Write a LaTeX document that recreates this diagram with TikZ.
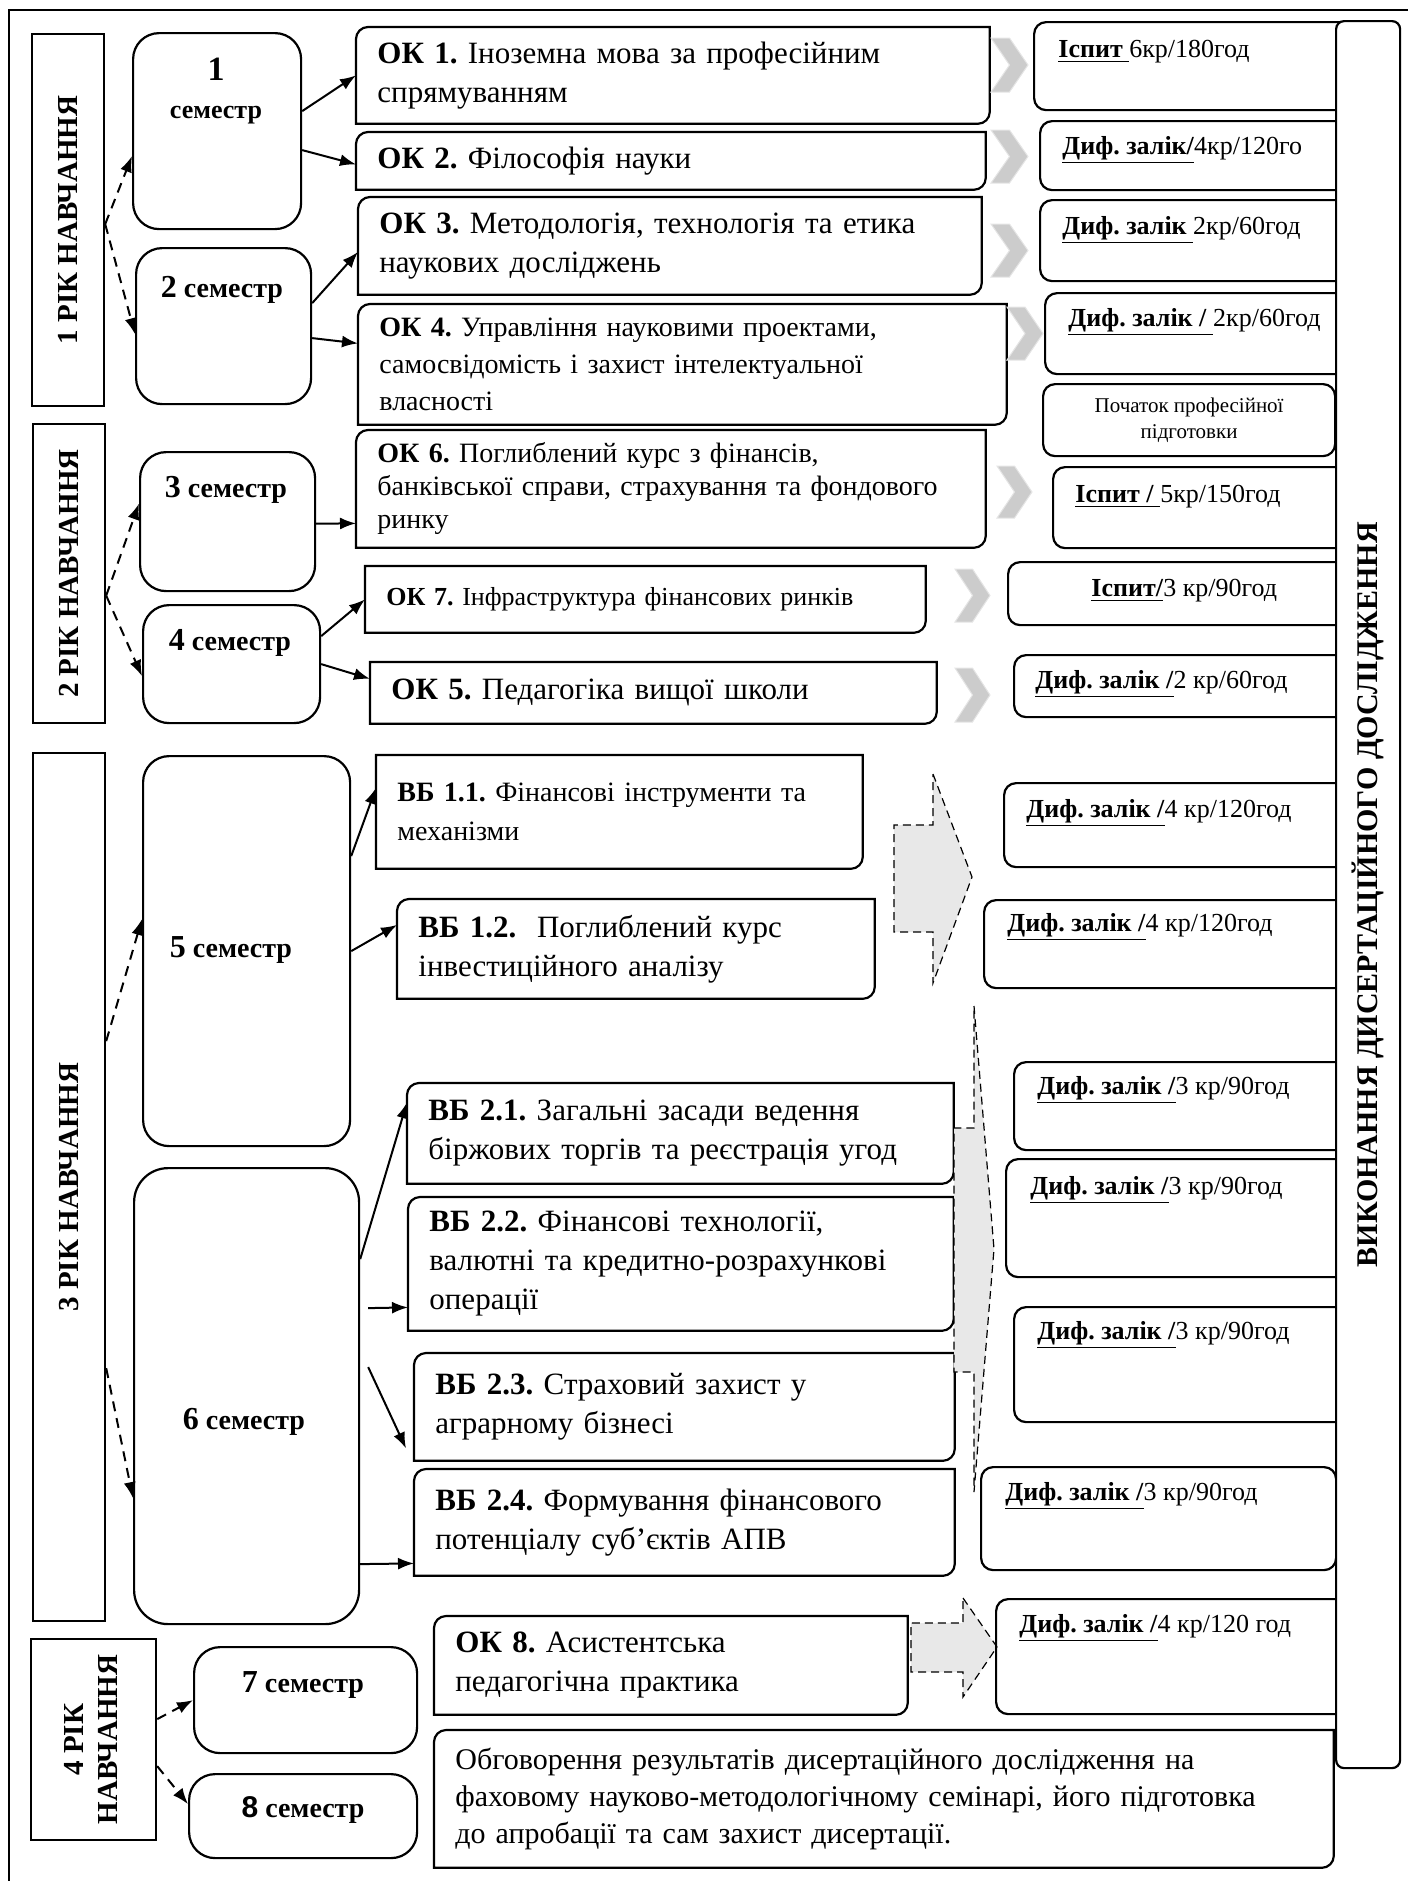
\documentclass[tikz,border=0pt]{standalone}
\usepackage{fontspec}
\setmainfont{Liberation Serif}
\newfontfamily\arialfont{Liberation Sans}
\usetikzlibrary{arrows.meta,positioning}
\frenchspacing

\tikzstyle{frame}=[line width=1pt]
\tikzstyle{yearbox}=[draw, line width=1.1pt, anchor=north west, inner sep=0pt, font=\fontsize{14.5}{17}\selectfont\bfseries]
\tikzstyle{sembox}=[draw, line width=1.1pt, anchor=north west, rounded corners=13pt]
\tikzstyle{semtext}=[align=center, inner sep=0pt, font=\fontsize{14}{19}\selectfont\bfseries]
\tikzstyle{course}=[anchor=north west, align=left, inner xsep=10.5pt, inner ysep=0pt, font=\fontsize{15.5}{19.5}\selectfont]
\tikzstyle{result}=[draw, line width=1.1pt, anchor=north west, rounded corners=6pt]
\tikzstyle{restext}=[anchor=west, inner sep=0pt, font=\fontsize{13}{15}\selectfont]
\tikzstyle{chev}=[fill=gray!40, draw=gray!20, line width=0.5pt]
\tikzstyle{bigarrow}=[draw, line width=0.6pt, dash pattern=on 4pt off 2.5pt, fill=gray!18]
\tikzstyle{link}=[-{Latex[length=8pt,width=6pt]}, line width=1pt]
\tikzstyle{dlink}=[link, dash pattern=on 5pt off 3.5pt]

% frame with rounded top left and bottom right corners
\newcommand{\diagframe}[1]{\draw[line width=1.1pt] ([xshift=6pt]#1.north west) -- (#1.north east) -- ([yshift=6pt]#1.south east) arc[start angle=0, end angle=-90, radius=6pt] -- (#1.south west) -- ([yshift=-6pt]#1.north west) arc[start angle=180, end angle=90, radius=6pt] -- cycle;}
% frame with rounded bottom right corner only
\newcommand{\brframe}[1]{\draw[line width=1.1pt] (#1.north west) -- (#1.north east) -- ([yshift=6pt]#1.south east) arc[start angle=0, end angle=-90, radius=6pt] -- (#1.south west) -- cycle;}
\newcommand{\chevron}[4]{\draw[chev] (#1,#2) -- ({(#1+#3)/2},#2) -- (#3,{(#2+#4)/2}) -- ({(#1+#3)/2},#4) -- (#1,#4) -- ({(#1+#3)/2},{(#2+#4)/2}) -- cycle;}

\begin{document}
\begin{tikzpicture}[x=0.5pt, y=-0.5pt]
\useasboundingbox (0,0) rectangle (1408,1881);
\draw[frame] (9,1881) -- (9,10) -- (1408,10);

% years
\node (year1) at (31,33) [yearbox, minimum width=36pt, minimum height=186pt] {\rotatebox{90}{1 РІК НАВЧАННЯ}};
\node (year2) at (32,423) [yearbox, minimum width=36pt, minimum height=149.5pt] {\rotatebox{90}{2 РІК НАВЧАННЯ}};
\node (year3) at (32,752) [yearbox, minimum width=36pt, minimum height=434pt] {\rotatebox{90}{3 РІК НАВЧАННЯ}};
\node (year4) at (30,1638) [yearbox, minimum width=62.5pt, minimum height=100.5pt] {\rotatebox{90}{\begin{tabular}{@{}c@{}}4 РІК\\НАВЧАННЯ\end{tabular}}};

% semesters
\node (sem1) at (132,32) [sembox, minimum width=84pt, minimum height=98pt] {};
\node (sem2) at (135,247) [sembox, minimum width=87.5pt, minimum height=78pt] {};
\node (sem3) at (139,451) [sembox, minimum width=87.5pt, minimum height=69.5pt] {};
\node (sem4) at (142,604) [sembox, minimum width=88.5pt, minimum height=59pt] {};
\node (sem5) at (142,755) [sembox, minimum width=103.5pt, minimum height=195pt] {};
\node (sem6) at (133,1167) [sembox, rounded corners=17pt, minimum width=112.5pt, minimum height=228pt] {};
\node (sem7) at (193,1646) [sembox, minimum width=111.5pt, minimum height=53pt] {};
\node (sem8) at (188,1773) [sembox, minimum width=114pt, minimum height=42pt] {};

\node (sem1t) at (216,91) [semtext] {{\fontsize{17}{19}\selectfont 1}\\{\fontsize{13}{15}\selectfont семестр}};
\node (sem2t) at (222,290) [semtext] {{\fontsize{16}{19}\selectfont 2} семестр};
\node (sem3t) at (226,490) [semtext] {{\fontsize{16}{19}\selectfont 3} семестр};
\node (sem4t) at (230,643) [semtext] {{\fontsize{16}{19}\selectfont 4} семестр};
\node (sem5t) at (231,950) [semtext] {{\fontsize{16}{19}\selectfont 5} семестр};
\node (sem6t) at (244,1422) [semtext] {{\fontsize{16}{19}\selectfont 6} семестр};
\node (sem7t) at (303,1685) [semtext] {{\fontsize{16}{19}\selectfont 7} семестр};
\node (sem8t) at (303,1810) [semtext] {{\fontsize{15}{19}\selectfont\arialfont 8} семестр};

% courses
\node (ok1) at (356,27) [course, minimum height=48pt, text width=295.5pt] {\textbf{ОК 1.} Іноземна мова за професійним\\спрямуванням};
\node (ok2) at (356,132) [course, minimum height=28.5pt, text width=293.5pt] {\textbf{ОК 2.} Філософія науки};
\node (ok3) at (358,197) [course, minimum height=48.5pt, text width=290.5pt] {\textbf{ОК 3.} Методологія, технологія та етика\\наукових досліджень};
\node (ok4) at (358,304) [course, minimum height=60pt, text width=303pt, font=\fontsize{14}{18.5}\selectfont] {\textbf{ОК 4.} Управління науковими проектами,\\самосвідомість і захист інтелектуальної\\власності};
\node (ok6) at (356,430) [course, minimum height=58.5pt, text width=293.5pt, font=\fontsize{14}{16.5}\selectfont] {\textbf{ОК 6.} Поглиблений курс з фінансів,\\банківської справи, страхування та фондового\\ринку};
\node (ok7) at (365,566) [course, minimum height=33pt, text width=259pt, font=\fontsize{13}{15}\selectfont] {\textbf{ОК 7.} Інфраструктура фінансових ринків};
\node (ok5) at (370,662) [course, minimum height=30.5pt, text width=262pt] {\textbf{ОК 5.} Педагогіка вищої школи};
\node (vb11) at (376,755) [course, minimum height=56.5pt, text width=222pt, font=\fontsize{14}{19.5}\selectfont] {\textbf{ВБ 1.1.} Фінансові інструменти та\\механізми};
\node (vb12) at (397,899) [course, minimum height=49.5pt, text width=217.5pt] {\textbf{ВБ 1.2.}\ \ Поглиблений курс\\інвестиційного аналізу};
\node (vb21) at (407,1083) [course, minimum height=50pt, text width=252pt] {\textbf{ВБ 2.1.} Загальні засади ведення\\біржових торгів та реєстрація угод};
\node (vb22) at (408,1197) [course, minimum height=66.5pt, text width=251.5pt] {\textbf{ВБ 2.2.} Фінансові технології,\\валютні та кредитно-розрахункові\\операції};
\node (vb23) at (414,1353) [course, minimum height=53.5pt, text width=249pt] {\textbf{ВБ 2.3.} Страховий захист у\\аграрному бізнесі};
\node (vb24) at (414,1469) [course, minimum height=53pt, text width=249pt] {\textbf{ВБ 2.4.} Формування фінансового\\потенціалу суб’єктів АПВ};
\node (ok8) at (434,1616) [course, minimum height=49pt, text width=215.5pt] {\textbf{ОК 8.} Асистентська\\педагогічна практика};
\node (fin) at (434,1730) [course, minimum height=68.5pt, text width=428.5pt, font=\fontsize{15}{18.5}\selectfont] {Обговорення результатів дисертаційного дослідження на\\фаховому науково-методологічному семінарі, його підготовка\\до апробації та сам захист дисертації.};

\diagframe{ok1} \diagframe{ok2} \diagframe{ok3} \diagframe{ok4} \diagframe{ok6}
\brframe{ok7} \brframe{ok5} \brframe{vb11}
\diagframe{vb12} \diagframe{vb21} \diagframe{vb22} \diagframe{vb23} \diagframe{vb24}
\diagframe{ok8} \diagframe{fin}

% chevrons and block arrows
\chevron{991}{38}{1028}{92}
\chevron{991}{130}{1028}{183}
\chevron{991}{224}{1028}{277}
\chevron{1007}{307}{1043}{360}
\chevron{997}{466}{1032}{518}
\chevron{955}{569}{990}{622}
\chevron{955}{668}{990}{722}
\draw[bigarrow] (933,774) -- (972,877) -- (933,983) -- (933,932) -- (894,932) -- (894,825) -- (933,825) -- cycle;
\draw[bigarrow] (974,1006) -- (994,1249) -- (974,1492) -- (974,1372) -- (954,1372) -- (954,1128) -- (974,1128) -- cycle;
\draw[bigarrow] (963,1598) -- (997,1647) -- (963,1697) -- (963,1672) -- (911,1672) -- (911,1623) -- (963,1623) -- cycle;

% results
\node (r1) at (1033,21) [result, minimum width=163.5pt, minimum height=44pt] {};
\node (r2) at (1039,120) [result, minimum width=160.5pt, minimum height=34.5pt] {};
\node (r3) at (1039,199) [result, minimum width=160.5pt, minimum height=40.5pt] {};
\node (r4) at (1044,292) [result, minimum width=158pt, minimum height=40.5pt] {};
\node (poch) at (1042,383) [result, minimum width=146pt, minimum height=36pt, align=center, font=\fontsize{10.5}{13}\selectfont] {Початок професійної\\підготовки};
\node (r6) at (1052,466) [result, minimum width=154pt, minimum height=40.5pt] {};
\node (r7) at (1007,561) [result, minimum width=176.5pt, minimum height=31.5pt] {};
\node (r5) at (1013,654) [result, minimum width=173.5pt, minimum height=31pt] {};
\node (r11) at (1003,782) [result, minimum width=178.5pt, minimum height=42pt] {};
\node (r12) at (983,899) [result, minimum width=188.5pt, minimum height=44pt] {};
\node (r21) at (1013,1061) [result, minimum width=173.5pt, minimum height=44pt] {};
\node (r22) at (1005,1158) [result, minimum width=177.5pt, minimum height=59pt] {};
\node (r23) at (1013,1306) [result, minimum width=173.5pt, minimum height=57.5pt] {};
\node (r24) at (980,1466) [result, minimum width=177.5pt, minimum height=51.5pt] {};
\node (r8) at (995,1598) [result, minimum width=182.5pt, minimum height=57.5pt] {};

\node (r1t) at (1058,52) [restext] {\underline{\textbf{Іспит }}6кр/180год};
\node (r2t) at (1062,150) [restext] {\underline{\textbf{Диф. залік/}}4кр/120го};
\node (r3t) at (1062,230) [restext] {\underline{\textbf{Диф. залік }}2кр/60год};
\node (r4t) at (1068,322) [restext] {\underline{\textbf{Диф. залік / }}2кр/60год};
\node (r6t) at (1075,497) [restext] {\underline{\textbf{Іспит / }}5кр/150год};
\node (r7t) at (1091,591) [restext] {\underline{\textbf{Іспит/}}3 кр/90год};
\node (r5t) at (1035,684) [restext] {\underline{\textbf{Диф. залік /}}2 кр/60год};
\node (r11t) at (1026,813) [restext] {\underline{\textbf{Диф. залік /}}4 кр/120год};
\node (r12t) at (1007,927) [restext] {\underline{\textbf{Диф. залік /}}4 кр/120год};
\node (r21t) at (1037,1090) [restext] {\underline{\textbf{Диф. залік /}}3 кр/90год};
\node (r22t) at (1030,1190) [restext] {\underline{\textbf{Диф. залік /}}3 кр/90год};
\node (r23t) at (1037,1335) [restext] {\underline{\textbf{Диф. залік /}}3 кр/90год};
\node (r24t) at (1005,1496) [restext] {\underline{\textbf{Диф. залік /}}3 кр/90год};
\node (r8t) at (1019,1628) [restext] {\underline{\textbf{Диф. залік /}}4 кр/120 год};

\node (work) at (1335,20) [yearbox, fill=white, rounded corners=4pt, minimum width=32pt, minimum height=873.5pt, font=\fontsize{15}{17}\selectfont\bfseries] {\rotatebox{90}{ВИКОНАННЯ ДИСЕРТАЦІЙНОГО ДОСЛІДЖЕННЯ}};

% year -> semester
\draw[dlink] ([yshift=-2pt]year1.east) -- ([yshift=-12.5pt]sem1.west);
\draw[dlink] ([yshift=-2pt]year1.east) -- ([yshift=-4pt]sem2.west);
\draw[dlink] ([yshift=-11pt]year2.east) -- ([yshift=9pt]sem3.west);
\draw[dlink] ([yshift=-11pt]year2.east) -- ([yshift=-6pt]sem4.west);
\draw[dlink] ([yshift=73pt]year3.east) -- ([yshift=16pt]sem5.west);
\draw[dlink] ([yshift=-90.5pt]year3.east) -- ([yshift=-51pt]sem6.west);
\draw[dlink] ([yshift=10.25pt]year4.east) -- (sem7.west);
\draw[dlink] ([yshift=-13.25pt]year4.east) -- ([yshift=6pt]sem8.west);

% semester -> course
\draw[link] ([yshift=10pt]sem1.east) -- (ok1.west);
\draw[link] ([yshift=-9.5pt]sem1.east) -- ([yshift=-1.75pt]ok2.west);
\draw[link] ([yshift=11.5pt]sem2.east) -- ([yshift=-3pt]ok3.west);
\draw[link] ([yshift=-6pt]sem2.east) -- ([yshift=10.5pt]ok4.west);
\draw[link] ([yshift=-1pt]sem3.east) -- ([yshift=-17.25pt]ok6.west);
\draw[link] ([yshift=14pt]sem4.east) -- (ok7.west);
\draw[link] (sem4.east) -- ([yshift=7pt]ok5.west);
\draw[link] ([yshift=47.5pt]sem5.east) -- ([yshift=12pt]vb11.west);
\draw[link] (sem5.east) -- ([yshift=12pt]vb12.west);
\draw[link] ([yshift=68.5pt]sem6.east) -- ([yshift=15.5pt]vb21.west);
\draw[link] ([xshift=4pt,yshift=44pt]sem6.east) -- ([yshift=-21.75pt]vb22.west);
\draw[link] ([xshift=4pt,yshift=14.5pt]sem6.east) -- ([xshift=-4pt,yshift=-20.75pt]vb23.west);
\draw[link] ([yshift=-84pt]sem6.east) -- ([yshift=-20.5pt]vb24.west);

\end{tikzpicture}
\end{document}
